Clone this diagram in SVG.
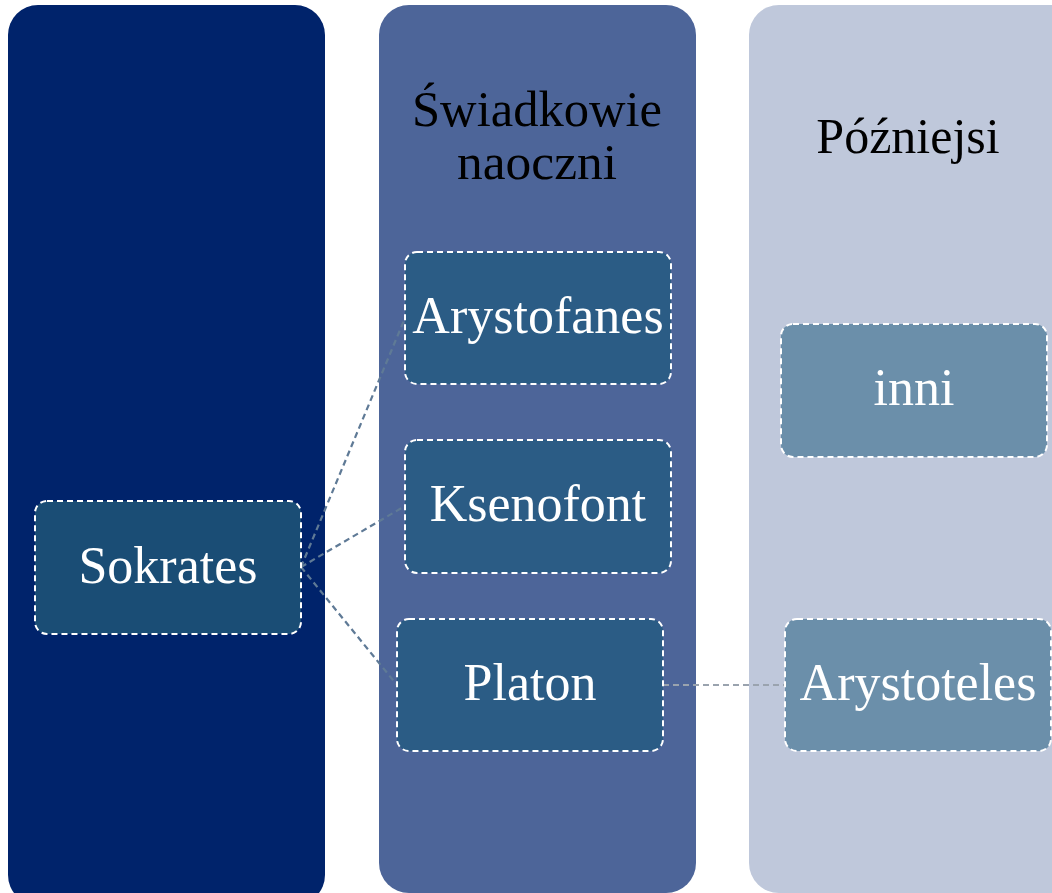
<svg xmlns="http://www.w3.org/2000/svg" width="1052" height="893" viewBox="0 0 1052 893">
<style>
.col{stroke:none}
.node{stroke:#ffffff;stroke-width:2;stroke-dasharray:6 4}
.nt{font-family:"Liberation Serif","Times New Roman",serif;font-size:52px;fill:#ffffff;text-anchor:middle}
.ht{font-family:"Liberation Serif","Times New Roman",serif;font-size:50px;fill:#000000;text-anchor:middle}
.c1{fill:none;stroke:#5F7A96;stroke-width:2.2;stroke-dasharray:6 4}
.c2{fill:none;stroke:#9AA3AE;stroke-width:2.2;stroke-dasharray:6 4}
</style>
<rect width="1052" height="893" fill="#ffffff"/>
<g id="columns">
<rect class="col" x="8" y="5" width="317" height="900" rx="30" fill="#00236B"/>
<rect class="col" x="379" y="5" width="317" height="888" rx="30" fill="#4D6599"/>
<rect class="col" x="749" y="5" width="340" height="888" rx="30" fill="#BFC8DB"/>
<text class="ht" x="537" y="126" font-size="44" textLength="250" lengthAdjust="spacingAndGlyphs">Świadkowie</text>
<text class="ht" x="537" y="179" font-size="44" textLength="160" lengthAdjust="spacingAndGlyphs">naoczni</text>
<text class="ht" x="908" y="153">Późniejsi</text>
</g>
<g id="connectors">
<line class="c1" x1="301" y1="567" x2="405" y2="318"/>
<line class="c1" x1="301" y1="567" x2="405" y2="506"/>
<line class="c1" x1="301" y1="567" x2="397" y2="685"/>
<line class="c2" x1="663" y1="685" x2="785" y2="685"/>
</g>
<g id="sokrates">
<rect class="node" x="35" y="501" width="266" height="133" rx="12" fill="#1A4D75"/>
<text class="nt" x="168" y="583">Sokrates</text>
</g>
<g id="arystofanes">
<rect class="node" x="405" y="252" width="266" height="132" rx="12" fill="#2B5C85"/>
<text class="nt" x="538" y="333">Arystofanes</text>
</g>
<g id="ksenofont">
<rect class="node" x="405" y="440" width="266" height="133" rx="12" fill="#2B5C85"/>
<text class="nt" x="538" y="521">Ksenofont</text>
</g>
<g id="platon">
<rect class="node" x="397" y="619" width="266" height="132" rx="12" fill="#2B5C85"/>
<text class="nt" x="530" y="700">Platon</text>
</g>
<g id="inni">
<rect class="node" x="781" y="324" width="266" height="133" rx="12" fill="#6B8FAA"/>
<text class="nt" x="914" y="405">inni</text>
</g>
<g id="arystoteles">
<rect class="node" x="785" y="619" width="266" height="132" rx="12" fill="#6B8FAA"/>
<text class="nt" x="918" y="700">Arystoteles</text>
</g>
</svg>
